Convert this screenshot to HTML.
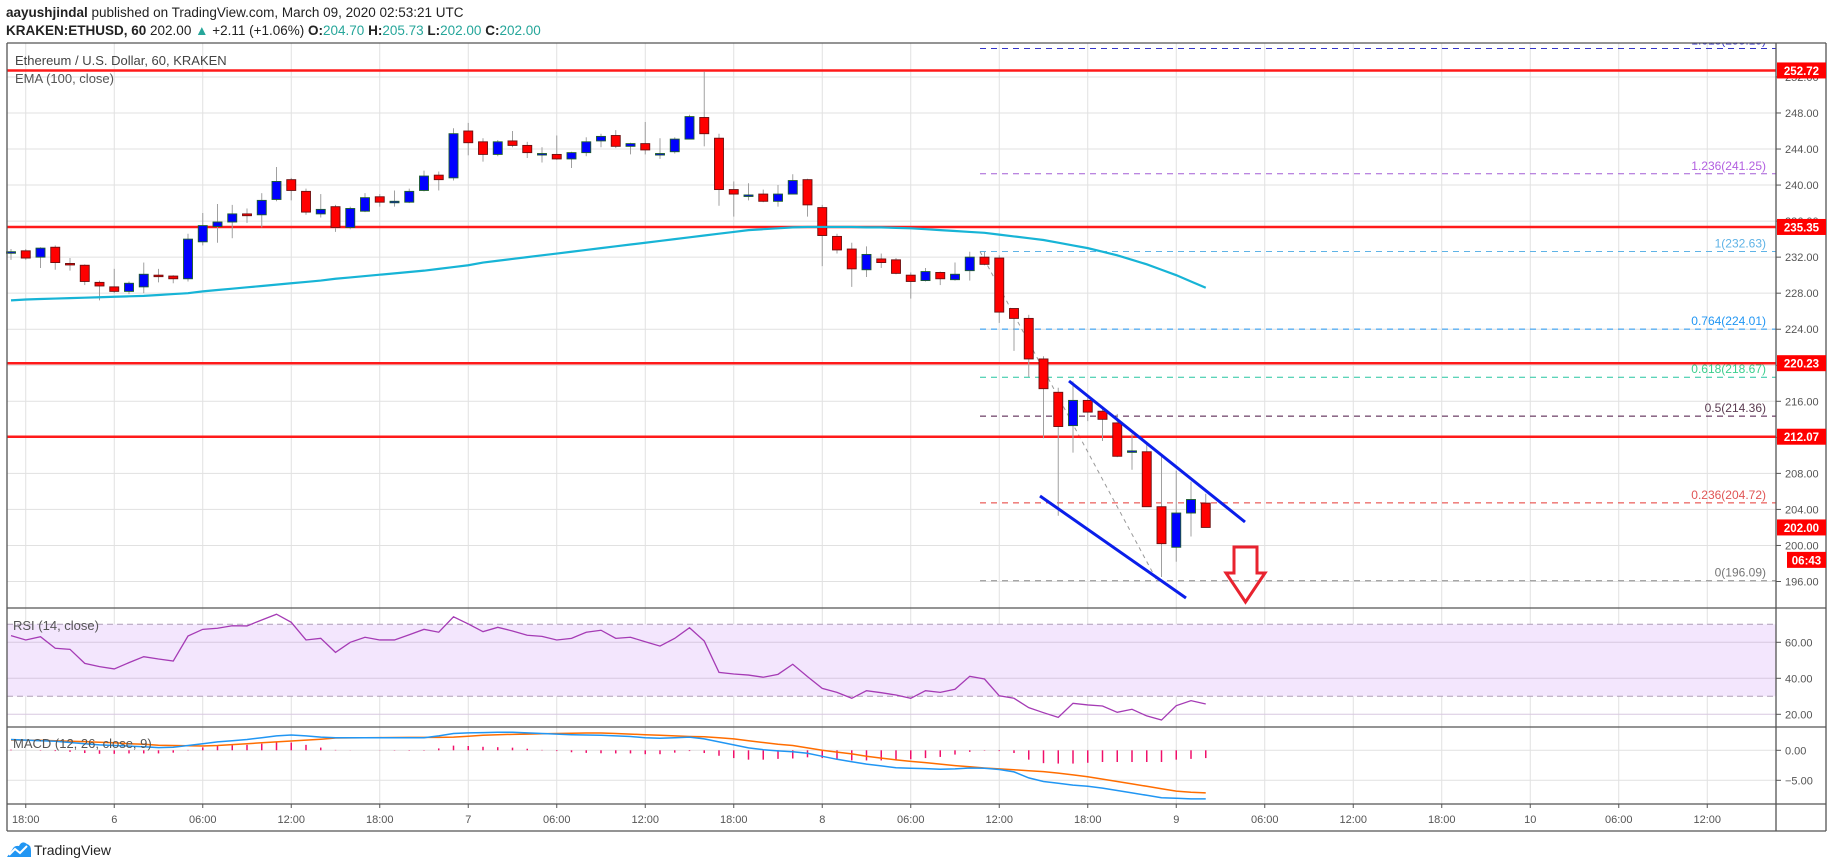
<!DOCTYPE html>
<html><head><meta charset="utf-8"><style>
html,body{margin:0;padding:0;background:#fff;width:1828px;height:868px;overflow:hidden}
svg{display:block;font-family:"Liberation Sans",sans-serif}
</style></head><body>
<svg id="chart" width="1828" height="868" viewBox="0 0 1828 868" xmlns="http://www.w3.org/2000/svg">
<defs><clipPath id="mainclip"><rect x="7" y="43" width="1769" height="565"/></clipPath></defs>
<text x="6" y="17" font-size="13.5" fill="#222"><tspan font-weight="bold">aayushjindal</tspan> published on TradingView.com, March 09, 2020 02:53:21 UTC</text>
<text x="6" y="35" font-size="13.5" fill="#222"><tspan font-weight="bold">KRAKEN:ETHUSD, 60</tspan> 202.00 <tspan fill="#26a69a">▲</tspan> +2.11 (+1.06%) <tspan font-weight="bold">O:</tspan><tspan fill="#26a69a">204.70</tspan> <tspan font-weight="bold">H:</tspan><tspan fill="#26a69a">205.73</tspan> <tspan font-weight="bold">L:</tspan><tspan fill="#26a69a">202.00</tspan> <tspan font-weight="bold">C:</tspan><tspan fill="#26a69a">202.00</tspan></text>
<g id="grid"></g>
<g id="overlays" clip-path="url(#mainclip)"></g>
<g id="marks"></g>
<g id="frame"></g>
<g id="labels"></g>
<g>
<path d="M7 857 L12 850 Q14 845 19 846 Q22 840 27 844 Q31 845 31 851 L31 857 Z" fill="#2196f3"/>
<path d="M9 855 L15 849 L20 853 L27 846" stroke="#fff" stroke-width="2" fill="none"/>
<text x="34" y="855" font-size="14" fill="#222">TradingView</text>
</g>
</svg>
<script>
const candleOpen=[232.6,232.7,232.0,233.1,231.3,231.1,229.2,228.7,228.2,228.7,230.0,229.9,229.6,233.7,235.4,235.9,236.8,236.7,238.4,240.6,239.3,236.8,237.6,235.3,237.1,238.7,238.2,238.1,239.4,241.1,240.8,246.0,244.8,243.4,244.9,244.4,243.5,243.4,242.9,243.6,244.9,245.5,244.3,244.6,243.5,243.7,245.1,247.5,245.2,239.5,238.9,239.0,238.2,239.0,240.6,237.5,234.3,232.9,230.6,231.8,231.7,230.0,229.4,230.3,229.5,230.5,232.0,231.9,226.3,225.2,220.7,217.0,213.3,216.1,214.9,213.6,210.5,210.4,204.3,199.8,203.6,204.7];
const candleClose=[232.6,231.9,233.0,231.4,231.2,229.3,228.8,228.2,229.1,230.1,229.9,229.6,234.0,235.5,235.9,236.8,236.6,238.3,240.4,239.4,237.0,237.3,235.3,237.4,238.6,238.1,238.2,239.3,241.0,240.6,245.7,244.7,243.4,244.8,244.4,243.6,243.5,242.9,243.6,244.8,245.4,244.3,244.6,243.9,243.5,245.1,247.6,245.7,239.5,239.0,238.9,238.2,239.0,240.5,237.8,234.4,232.8,230.7,232.3,231.4,230.2,229.3,230.4,229.6,230.1,232.0,231.2,225.9,225.2,220.7,217.4,213.2,216.1,214.8,214.0,209.9,210.5,204.3,200.2,203.6,205.1,202.0];
const candleHigh=[232.9,232.9,233.1,233.3,231.9,231.2,229.4,230.7,229.3,231.4,230.7,230.0,234.6,236.9,237.9,237.8,237.4,239.1,242.0,240.8,239.6,239.0,237.8,237.6,239.1,239.0,239.4,239.6,241.6,241.5,246.3,246.9,245.2,245.0,246.0,244.8,244.2,245.5,243.7,245.3,245.7,246.1,244.7,247.0,245.2,245.3,247.8,252.6,245.7,240.4,240.2,239.5,240.0,241.2,240.7,237.8,234.6,233.6,233.2,232.4,231.9,230.3,230.8,230.4,231.4,232.6,232.6,232.2,226.3,225.6,221.0,217.5,218.2,216.4,215.2,214.6,212.4,211.5,210.2,208.3,207.1,205.73];
const candleLow=[231.7,231.7,230.8,230.6,230.5,228.9,227.2,228.0,227.9,228.0,229.2,229.1,229.3,233.3,233.6,234.1,235.8,235.3,238.2,238.3,236.7,236.4,234.8,235.1,237.0,237.6,237.6,238.0,239.3,239.4,240.5,243.3,242.6,243.2,244.2,243.0,242.5,242.8,241.9,243.2,244.2,244.1,243.4,243.4,242.9,243.5,245.1,244.3,237.7,236.5,238.3,238.1,237.6,240.3,236.5,231.0,232.4,228.7,229.8,230.8,230.1,227.4,229.3,228.9,229.4,229.4,231.1,224.7,221.6,218.7,211.9,203.3,210.3,213.8,211.6,209.8,208.4,204.3,196.5,198.2,201.0,202.0];
const emaValues=[227.2,227.3,227.35,227.4,227.45,227.5,227.55,227.6,227.65,227.7,227.8,227.9,228.0,228.2,228.35,228.5,228.65,228.8,228.95,229.1,229.25,229.4,229.6,229.75,229.9,230.05,230.2,230.35,230.5,230.7,230.9,231.1,231.4,231.6,231.8,232.0,232.2,232.4,232.6,232.8,233.0,233.2,233.4,233.6,233.8,234.0,234.2,234.4,234.6,234.8,235.0,235.1,235.2,235.3,235.35,235.35,235.35,235.35,235.3,235.3,235.25,235.2,235.1,235.0,234.9,234.8,234.7,234.5,234.3,234.1,233.9,233.6,233.3,233.0,232.6,232.2,231.7,231.2,230.6,230.0,229.3,228.6];
const rsiValues=[63.7,61.3,63.1,56.7,56.1,48.3,46.5,45.2,48.7,52.0,50.7,49.6,63.5,67.2,67.8,69.2,69.1,72.4,75.6,71.1,61.3,62.2,54.4,60.0,62.8,61.3,61.3,64.2,67.2,65.6,74.2,70.2,65.9,68.3,66.3,63.9,63.3,61.3,62.2,65.6,66.7,62.2,62.8,60.3,57.9,62.2,68.1,60.7,43.3,42.4,41.8,40.6,42.2,47.8,40.9,34.4,32.2,28.9,33.1,32.0,30.7,28.9,33.1,32.2,33.9,41.1,39.6,30.3,28.9,23.7,20.9,18.3,26.1,25.2,24.6,21.1,22.8,19.1,16.8,24.8,27.6,25.7];
const macdValues=[1.8,1.7,1.6,1.5,1.3,1.1,0.9,0.8,0.7,0.6,0.45,0.5,0.8,1.1,1.4,1.6,1.8,2.1,2.4,2.55,2.4,2.2,2.1,2.1,2.1,2.1,2.1,2.1,2.1,2.4,2.8,2.9,2.95,3.0,3.0,2.9,2.8,2.7,2.6,2.55,2.5,2.4,2.3,2.1,2.0,2.1,2.2,1.9,1.4,0.9,0.4,0.1,-0.1,-0.25,-0.5,-1.0,-1.5,-1.9,-2.3,-2.6,-2.9,-3.0,-3.05,-3.15,-3.1,-2.95,-3.0,-3.2,-3.6,-4.6,-5.2,-5.5,-5.8,-6.0,-6.3,-6.7,-7.1,-7.5,-7.9,-8.0,-8.1,-8.1];
const signalValues=[1.72,1.7,1.65,1.6,1.5,1.45,1.35,1.25,1.1,1.0,0.85,0.8,0.75,0.72,0.8,0.95,1.1,1.25,1.4,1.55,1.7,1.85,2.05,2.08,2.1,2.12,2.14,2.15,2.15,2.16,2.2,2.35,2.5,2.6,2.66,2.7,2.75,2.8,2.85,2.88,2.88,2.8,2.7,2.6,2.5,2.4,2.3,2.25,2.1,1.9,1.6,1.3,1.0,0.8,0.4,0.0,-0.3,-0.6,-1.0,-1.3,-1.6,-1.85,-2.05,-2.3,-2.55,-2.75,-2.95,-3.1,-3.25,-3.4,-3.55,-3.8,-4.1,-4.4,-4.8,-5.2,-5.6,-6.0,-6.4,-6.8,-7.0,-7.1];
const priceTicks=[196,200,204,208,212,216,220,224,228,232,236,240,244,248,252];
const priceTickLabels=["196.00","200.00","204.00","208.00","212.00","216.00","220.00","224.00","228.00","232.00","236.00","240.00","244.00","248.00","252.00"];
const timeLabels=["18:00","6","06:00","12:00","18:00","7","06:00","12:00","18:00","8","06:00","12:00","18:00","9","06:00","12:00","18:00","10","06:00","12:00"];
const srLevels=[252.72,235.35,220.23,212.07];
const fibRatios=["1.618","1.236","1","0.764","0.618","0.5","0.236","0"];
const fibPrices=[255.15,241.25,232.63,224.01,218.67,214.36,204.72,196.09];
const rsiTicks=[60,40,20];
const macdTicks=[0,-5];

const NS="http://www.w3.org/2000/svg";
const L=7,R=1776,TOP=43,MAINB=608,RSIB=727,MACDB=804,AXB=831;
const X0=11,BW=14.75;
const xOf=i=>X0+i*BW;
const yP=p=>581.5-(p-196)*9.01;
const yR=r=>642.3+(60-r)*1.8;
const yM=m=>750.3-m*6;
function mk(parent,tag,attrs,text){const e=document.createElementNS(NS,tag);for(const k in attrs)e.setAttribute(k,attrs[k]);if(text!==undefined)e.textContent=text;document.getElementById(parent).appendChild(e);return e;}

priceTicks.forEach((p,k)=>{const e=mk('grid','line',{x1:L,x2:R,y1:yP(p),y2:yP(p),stroke:'#e1e1e1'});

});
timeLabels.forEach((t,k)=>{const x=xOf(1)+k*6*BW;const e=mk('grid','line',{x1:x,x2:x,y1:TOP,y2:MACDB,stroke:'#e1e1e1'});

});
{const e=mk('grid','rect',{x:L,y:yR(70),width:R-L,height:yR(30)-yR(70),fill:'#f3e6fd'});

}
rsiTicks.forEach(r=>{const e=mk('grid','line',{x1:L,x2:R,y1:yR(r),y2:yR(r),stroke:'#d8c8e0'});

});
[70,30].forEach(r=>{const e=mk('grid','line',{x1:L,x2:R,y1:yR(r),y2:yR(r),stroke:'#b0a0b8','stroke-dasharray':'6,4'});

});
macdTicks.forEach(m=>{const e=mk('grid','line',{x1:L,x2:R,y1:yM(m),y2:yM(m),stroke:'#e1e1e1'});

});

const fibColors=['#3535c8','#a35fd6','#5fb3e6','#2196f3','#26c6a0','#4a1242','#e53935','#888888'];
const fibText=['#3535c8','#b25fe0','#5fb3e6','#2196f3','#3ccf8e','#5a3a50','#e05555','#777777'];
fibPrices.forEach((p,k)=>{const y=yP(p);
const l=mk('overlays','line',{x1:980,x2:R,y1:y,y2:y,stroke:fibColors[k],'stroke-dasharray':'6,5'});


const t=mk('overlays','text',{x:1766,y:y-4,'font-size':12,fill:fibText[k],'text-anchor':'end'},fibRatios[k]+'('+p.toFixed(2)+')');

});
{const e=mk('overlays','line',{x1:980,y1:yP(fibPrices[2]),x2:1157,y2:yP(fibPrices[7]),stroke:'#999','stroke-dasharray':'4,4'});

}
srLevels.forEach(p=>{const e=mk('overlays','line',{x1:L,x2:R,y1:yP(p),y2:yP(p),stroke:'#ff1a1a','stroke-width':2.5});

});

candleOpen.forEach((o,i)=>{const c=candleClose[i],x=xOf(i);const up=c>=o;
const w=mk('marks','line',{x1:x,x2:x,y1:yP(candleHigh[i]),y2:yP(candleLow[i]),stroke:'#a0a0a0'});


const top=yP(Math.max(o,c)),h=Math.max(1.5,yP(Math.min(o,c))-top);
const b=mk('marks','rect',{x:x-4.5,y:top,width:9,height:h,fill:up?'#0000ff':'#ff0000',stroke:up?'#1e5e2a':'#6b1010','stroke-width':0.9});

});
{const e=mk('marks','polyline',{points:emaValues.map((v,i)=>xOf(i)+','+yP(v)).join(' '),fill:'none',stroke:'#17b4d6','stroke-width':2.2});

}
{const e=mk('marks','line',{x1:1069,y1:381,x2:1245,y2:522,stroke:'#0a1eea','stroke-width':3});

}
{const e=mk('marks','line',{x1:1040,y1:496,x2:1186,y2:598,stroke:'#0a1eea','stroke-width':3});

}
{const e=mk('marks','path',{d:'M1234 547 L1257 547 L1257 573 L1265 573 L1245.5 602 L1226 573 L1234 573 Z',fill:'none',stroke:'#e8232f','stroke-width':3});

}
{const e=mk('marks','polyline',{points:rsiValues.map((v,i)=>xOf(i)+','+yR(v)).join(' '),fill:'none',stroke:'#a53bb5','stroke-width':1.3});

}
macdValues.forEach((m,i)=>{const h=m-signalValues[i];const x=xOf(i);
const e=mk('marks','line',{x1:x,x2:x,y1:yM(0),y2:yM(0)-h*6*1.3,stroke:'#f0106a','stroke-width':1.5});

});
{const e=mk('marks','polyline',{points:signalValues.map((v,i)=>xOf(i)+','+yM(v)).join(' '),fill:'none',stroke:'#ff6d00','stroke-width':1.5});

}
{const e=mk('marks','polyline',{points:macdValues.map((v,i)=>xOf(i)+','+yM(v)).join(' '),fill:'none',stroke:'#2196f3','stroke-width':1.5});

}

[[L,TOP,1826,TOP],[L,TOP,L,AXB],[R,TOP,R,AXB],[1826,TOP,1826,AXB],[L,AXB,1826,AXB],[L,MAINB,1826,MAINB],[L,RSIB,1826,RSIB],[L,MACDB,1826,MACDB]].forEach(a=>{
const e=mk('frame','line',{x1:a[0],y1:a[1],x2:a[2],y2:a[3],stroke:'#555','stroke-width':1.3});

});

function lab(x,y,t,o,name){const e=mk('labels','text',Object.assign({x:x,y:y},o),t);

return e;}
lab(15,65,'Ethereum / U.S. Dollar, 60, KRAKEN',{'font-size':13,fill:'#444'},'chart-title');
lab(15,83,'EMA (100, close)',{'font-size':13,fill:'#555'},'ema-legend');
lab(13,630,'RSI (14, close)',{'font-size':13,fill:'#555'},'rsi-legend');
lab(13,748,'MACD (12, 26, close, 9)',{'font-size':13,fill:'#555'},'macd-legend');
priceTicks.forEach((p,k)=>{mk('labels','line',{x1:R,x2:R+5,y1:yP(p),y2:yP(p),stroke:'#555'});
lab(1785,yP(p)+4,priceTickLabels[k],{'font-size':11,fill:'#555'},'price-tick-label');});
rsiTicks.forEach(r=>{mk('labels','line',{x1:R,x2:R+5,y1:yR(r),y2:yR(r),stroke:'#555'});
lab(1785,yR(r)+4,r.toFixed(2),{'font-size':11,fill:'#555'},'rsi-tick-label');});
macdTicks.forEach(m=>{mk('labels','line',{x1:R,x2:R+5,y1:yM(m),y2:yM(m),stroke:'#555'});
lab(1785,yM(m)+4,(m<0?'−':'')+Math.abs(m).toFixed(2),{'font-size':11,fill:'#555'},'macd-tick-label');});
timeLabels.forEach((t,k)=>{const x=xOf(1)+k*6*BW;mk('labels','line',{x1:x,x2:x,y1:MACDB,y2:MACDB+4,stroke:'#555'});
lab(x,823,t,{'font-size':11,fill:'#555','text-anchor':'middle'},'time-tick-label');});
function box(p,t,x,w,name){const y=yP(p);
const r=mk('labels','rect',{x:x,y:y-8,width:w,height:16,fill:'#ff0000'});


lab(x+w/2,y+4.5,t,{'font-size':11.5,'font-weight':'bold',fill:'#fff','text-anchor':'middle'},name+'-text');}
srLevels.forEach(p=>box(p,p.toFixed(2),1777,49,'sr-price-label'));
box(candleClose[candleClose.length-1],candleClose[candleClose.length-1].toFixed(2),1777,49,'last-price-label');
box(candleClose[candleClose.length-1]-3.6,'06:43',1787,39,'countdown-label');
</script>
</body></html>
